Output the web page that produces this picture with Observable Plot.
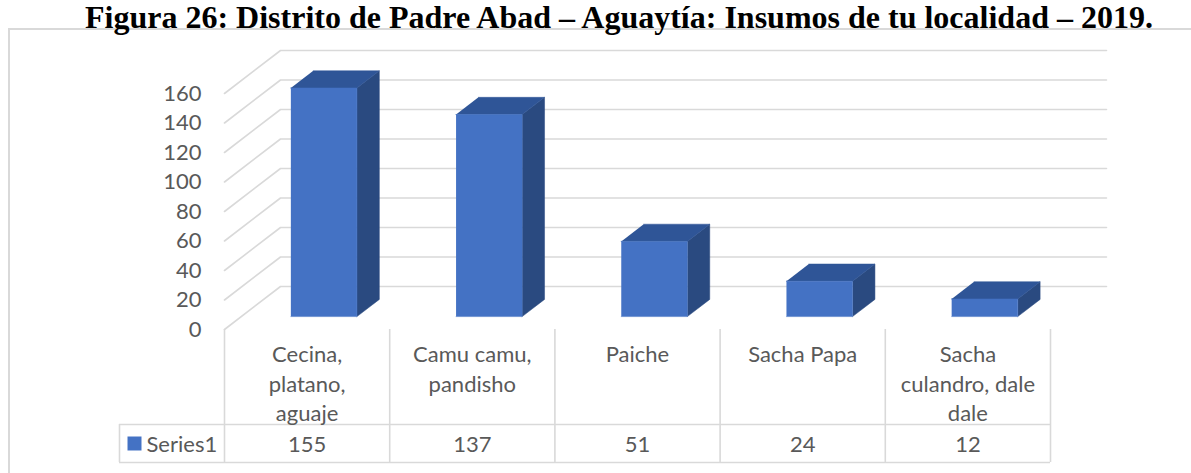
<!DOCTYPE html>
<html>
<head>
<meta charset="utf-8">
<script src="https://cdn.jsdelivr.net/npm/d3@7"></script>
<script src="https://cdn.jsdelivr.net/npm/@observablehq/plot@0.6"></script>
<style>
  html, body { margin: 0; padding: 0; background: #fff; }
  #wrap { position: relative; width: 1191px; height: 473px; overflow: hidden; }
  #frame { position: absolute; left: 8px; top: 28px; width: 1300px; height: 600px;
           border-left: 2px solid #d9d9d9; border-top: 2px solid #d9d9d9; box-sizing: border-box; }
  #title { position: absolute; left: 85px; white-space: nowrap; font-family: "Liberation Serif", serif;
           font-weight: bold; line-height: 1; color: #000; }
  #chart { position: absolute; left: 0; top: 0; }
</style>
</head>
<body>
<div id="wrap">
  <div id="frame"></div>
  <div id="title"></div>
  <div id="chart"></div>
</div>
<script>
// ---- data ----
const titleText = ["Figura 26: Distrito de Padre Abad – Aguaytía: Insumos de tu localidad – 2019."];
const categories = ["Cecina, platano, aguaje", "Camu camu, pandisho", "Paiche", "Sacha Papa", "Sacha culandro, dale dale"];
const categoryLines = ["Cecina,\nplatano,\naguaje", "Camu camu,\npandisho", "Paiche", "Sacha Papa", "Sacha\nculandro, dale\ndale"];
const values = [155, 137, 51, 24, 12];
const yTicks = [0, 20, 40, 60, 80, 100, 120, 140, 160];
const seriesName = ["Series1"];

// ---- layout ----
const W = 1191, H = 473, ML = 224, MR = 141, MT = 93, MB = 144;
const n = categories.length;
const bandPx = (W - ML - MR) / n;
const unitPx = (H - MT - MB) / 160;
const DX = 56 / bandPx, DY = 43 / unitPx;       // oblique depth vector in data units
const P = (x, v, d) => ({x: x + d * DX, y: v + d * DY});

const gray = "#595959", lineGray = "#d9d9d9";
const cFront = "#4472C4", cTop = "#2F5597", cSide = "#2A4A80";

// title sizing
const titleEl = document.getElementById("title");
titleEl.textContent = titleText[0];
const ctx = document.createElement("canvas").getContext("2d");
ctx.font = "bold 100px 'Liberation Serif'";
const tfs = 100 * 1072 / ctx.measureText(titleText[0]).width;
titleEl.style.fontSize = tfs + "px";
titleEl.style.top = Math.max(0.5, 21.5 - (1 - 1.107) / 2 * tfs - 0.891 * tfs) + "px";

// faces
const frontFaces = [], topFaces = [], sideFaces = [];
values.forEach((v, i) => {
  const x0 = i + 0.3, x1 = i + 0.7, d0 = 0.3, d1 = 0.7;
  frontFaces.push(...[P(x0, 0, d0), P(x1, 0, d0), P(x1, v, d0), P(x0, v, d0)].map(p => ({...p, z: i})));
  topFaces.push(...[P(x0, v, d0), P(x1, v, d0), P(x1, v, d1), P(x0, v, d1)].map(p => ({...p, z: i})));
  sideFaces.push(...[P(x1, 0, d0), P(x1, 0, d1), P(x1, v, d1), P(x1, v, d0)].map(p => ({...p, z: i})));
});
const grid = yTicks.flatMap(t => [P(0, t, 0), P(0, t, 1), P(n, t, 1)].map(p => ({...p, z: t})));

// table geometry (data units)
const vRowTop = -95 / unitPx, vRowBot = -133 / unitPx;
const xLeft = (119 - ML) / bandPx;

const chart = Plot.plot({
  width: W, height: H,
  marginLeft: ML, marginRight: MR, marginTop: MT, marginBottom: MB,
  x: {type: "linear", domain: [0, n], axis: null},
  y: {type: "linear", domain: [0, 160], axis: null},
  style: {fontFamily: "Lato, sans-serif", fontSize: "22px", color: gray, background: "transparent", overflow: "visible"},
  marks: [
    Plot.line(grid, {x: "x", y: "y", z: "z", stroke: lineGray, strokeWidth: 1.6}),
    Plot.axisY(yTicks, {tickSize: 0, tickPadding: 23, fontSize: 22, label: null, fill: gray}),
    Plot.line(sideFaces, {x: "x", y: "y", z: "z", fill: cSide, stroke: cSide, strokeWidth: 0.5}),
    Plot.line(topFaces, {x: "x", y: "y", z: "z", fill: cTop, stroke: cTop, strokeWidth: 0.5}),
    Plot.line(frontFaces, {x: "x", y: "y", z: "z", fill: cFront, stroke: cFront, strokeWidth: 0.5}),
    // table
    Plot.ruleX(d3.range(n + 1), {x: d => d, y1: 0, y2: vRowBot, stroke: lineGray, strokeWidth: 1.6}),
    Plot.ruleX([xLeft], {x: d => d, y1: vRowTop, y2: vRowBot, stroke: lineGray, strokeWidth: 1.6}),
    Plot.ruleY([vRowTop, vRowBot], {y: d => d, x1: xLeft, x2: n, stroke: lineGray, strokeWidth: 1.6}),
    Plot.text(categoryLines, {x: (d, i) => i + 0.5, y: 0, dy: 12, text: d => d, lineAnchor: "top",
      lineHeight: 1.34, fontSize: 22, fill: gray}),
    Plot.text(values, {x: (d, i) => i + 0.5, y: 0, dy: 115, text: d => String(d), fontSize: 22, fill: gray}),
    Plot.dot(seriesName, {x: 0, y: 0, dx: -90, dy: 114, symbol: "square", r: 7.9, fill: cFront, stroke: null}),
    Plot.text(seriesName, {x: 0, y: 0, dx: -78, dy: 115, text: d => d, textAnchor: "start", fontSize: 22, fill: gray})
  ]
});
document.getElementById("chart").appendChild(chart);
</script>
</body>
</html>
